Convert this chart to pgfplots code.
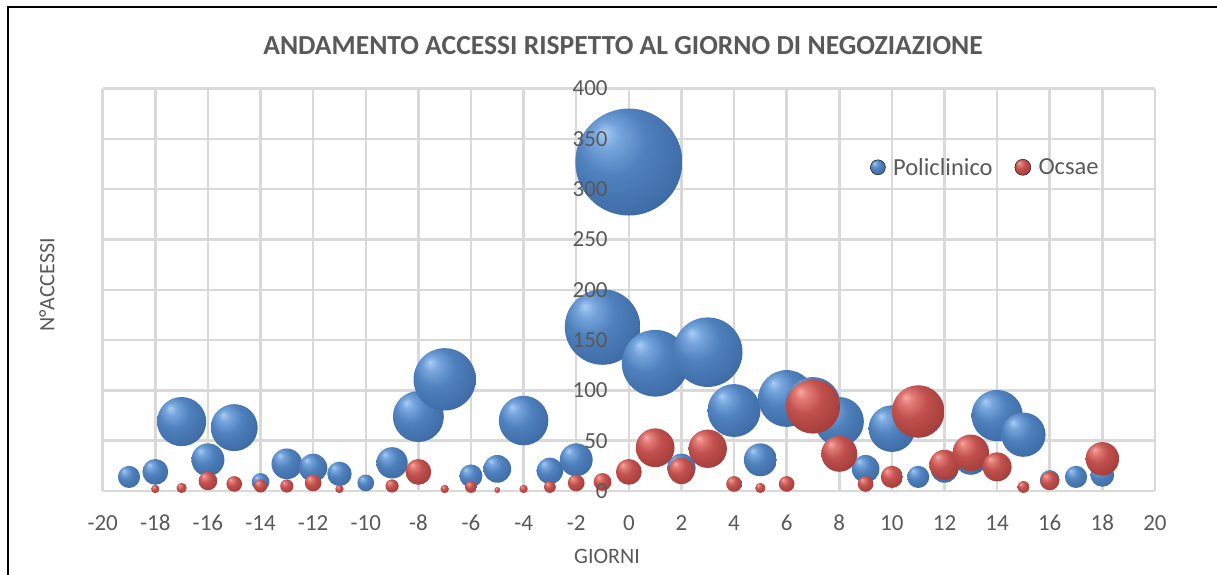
\documentclass[border=0pt]{standalone}
\usepackage{pgfplots}
\usepackage{pgfplotstable}
\pgfplotsset{compat=1.18}
\usepackage{fontspec}
\setmainfont{Carlito}
\definecolor{txt}{HTML}{595959}
\definecolor{gridc}{HTML}{D9D9D9}
\definecolor{bhl}{HTML}{A9CDF5}
\definecolor{bm1}{HTML}{77A5DD}
\definecolor{bm2}{HTML}{4F81BD}
\definecolor{bm3}{HTML}{3F6DA7}
\definecolor{bm4}{HTML}{2A4E80}
\definecolor{bm5}{HTML}{1C375C}
\definecolor{rhl}{HTML}{F5AAA5}
\definecolor{rm1}{HTML}{E27A75}
\definecolor{rm2}{HTML}{C0504D}
\definecolor{rm3}{HTML}{A63F3C}
\definecolor{rm4}{HTML}{832F2D}
\definecolor{rm5}{HTML}{5A1F1D}
\pgfdeclareradialshading{blueball}{\pgfpoint{-12bp}{14bp}}{color(0bp)=(bhl); color(6bp)=(bm1); color(16bp)=(bm2); color(30bp)=(bm3); color(42bp)=(bm4); color(50bp)=(bm5)}
\pgfdeclareradialshading{redball}{\pgfpoint{-12bp}{14bp}}{color(0bp)=(rhl); color(6bp)=(rm1); color(16bp)=(rm2); color(30bp)=(rm3); color(42bp)=(rm4); color(50bp)=(rm5)}
\pgfdeclareplotmark{bball}{\pgfpathcircle{\pgfpointorigin}{\pgfplotmarksize}\pgfshadepath{blueball}{0}\pgfusepath{}}
\pgfdeclareplotmark{rball}{\pgfpathcircle{\pgfpointorigin}{\pgfplotmarksize}\pgfshadepath{redball}{0}\pgfusepath{}}

\pgfplotsset{
  chartbase/.style={
    at={(102.7pt,84pt)}, anchor=south west,
    scale only axis, width=1052.3pt, height=402.4pt,
    xmin=-20, xmax=20, ymin=0, ymax=400,
    ytick={0,50,...,400},
    major tick length=0pt,
    /pgf/number format/assume math mode=true,
    tick label style={font=\fontsize{23}{27}\selectfont, text=txt},
    clip=false,
  },
}

\pgfplotstableread{
x y
-19 14
-18 19
-17 69
-16 31
-15 63
-14 9
-13 27
-12 23
-11 17
-10 8
-9 28
-8 74
-7 111
-6 15
-5 22
-4 70
-3 20
-2 31
-1 163
0 327
1 127
2 23
3 138
4 80
5 31
6 92
7 86
8 69
9 22
10 62
11 14
12 22
13 33
14 75
15 56
16 11
17 14
18 16
}\policlinico

\pgfplotstableread{
x y
-18 2
-17 3
-16 10
-15 7
-14 5
-13 5
-12 8
-11 2
-9 5
-8 19
-7 2
-6 4
-5 1
-4 2
-3 4
-2 8
-1 9
0 19
1 43
2 20
3 42
4 7
5 3
6 7
7 84
8 37
9 7
10 14
11 79
12 26
13 38
14 24
15 4
16 10
18 32
}\ocsae

\begin{document}
\begin{tikzpicture}
\path[use as bounding box] (0,0) rectangle (1217pt,575pt);
\draw[black, line width=2pt] (8pt,0pt) -- (8pt,567.5pt) -- (1217pt,567.5pt);
\begin{axis}[
  chartbase,
  xtick={-20,-18,...,20},
  yticklabels={},
  axis x line=bottom, axis y line=middle,
  hide obscured x ticks=false, hide obscured y ticks=false,
  x axis line style={draw=gridc, line width=2.5pt, -},
  y axis line style={draw=none},
  grid=major, major grid style={draw=gridc, line width=2.5pt},
  xticklabel style={anchor=center, inner sep=0pt, yshift=-32pt},
  legend columns=2,
  legend style={at={(axis description cs:0.7292,0.8044)}, anchor=west,
    draw=none, fill=none, inner sep=0pt,
    font=\fontsize{24.5}{28}\selectfont, text=txt,
    nodes={inner sep=0pt, text=txt},
    /tikz/every odd column/.append style={column sep=7.5pt},
    /tikz/every even column/.append style={column sep=22pt}},
]
\addplot[scatter, only marks, mark=bball,
  visualization depends on={\thisrow{y} \as \yy},
  scatter/@pre marker code/.append style={/tikz/mark size={53.5*sqrt(\yy/327)}},
  legend image code/.code={\shade[shading=blueball] (0pt,0pt) circle (7.5pt);}
] table[x=x, y=y] {\policlinico};
\addlegendentry{Policlinico}
\addplot[scatter, only marks, mark=rball,
  visualization depends on={\thisrow{y} \as \yy},
  scatter/@pre marker code/.append style={/tikz/mark size={53.5*sqrt(\yy/327)}},
  legend image code/.code={\shade[shading=redball] (0pt,0pt) circle (8pt);}
] table[x=x, y=y] {\ocsae};
\addlegendentry{Ocsae}
\end{axis}
% overlay axis: y tick labels drawn above the bubbles, as in the reference
\begin{axis}[
  chartbase,
  axis x line=none, axis y line=middle,
  hide obscured y ticks=false,
  y axis line style={draw=none},
  xtick=\empty,
  yticklabel style={anchor=east, inner sep=0pt, xshift=-21pt},
]
\end{axis}
\node[font=\bfseries\fontsize{27.6}{31}\selectfont, text=txt] at (623pt,529pt) {ANDAMENTO ACCESSI RISPETTO AL GIORNO DI NEGOZIAZIONE};
\node[font=\fontsize{22}{26}\selectfont, text=txt] at (607pt,19pt) {GIORNI};
\node[font=\fontsize{22}{26}\selectfont, text=txt, rotate=90] at (47pt,290pt) {N°ACCESSI};
\end{tikzpicture}
\end{document}
